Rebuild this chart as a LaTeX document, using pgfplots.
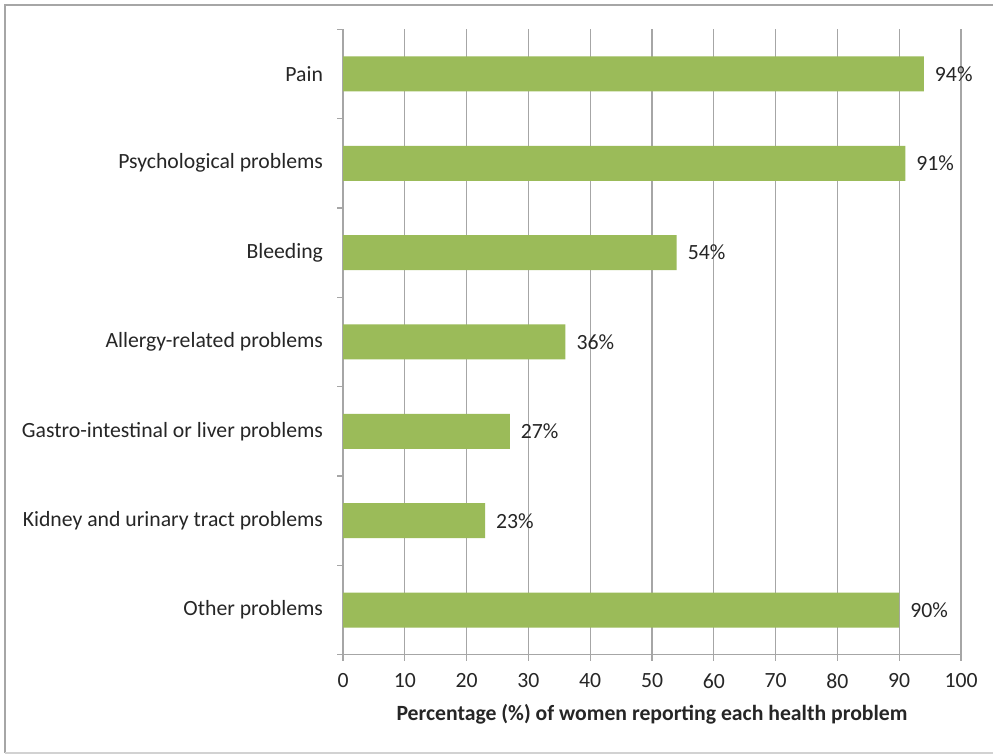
\documentclass[border=0pt]{standalone}
\usepackage{fontspec}
\setmainfont{Carlito}
\usepackage{pgfplots}
\pgfplotsset{compat=1.18}
\definecolor{bargreen}{HTML}{9BBB59}
\definecolor{gridgray}{HTML}{A6A6A6}
\definecolor{txt}{HTML}{262626}
\newcommand{\lblfont}{\fontsize{10.9}{13}\selectfont}
\begin{document}
\begin{tikzpicture}[x=0.5bp,y=0.5bp]
\useasboundingbox (0,0) rectangle (993,754);
\fill[white] (0,0) rectangle (993,754);
% chart frame
\draw[gray!70, line width=1.2bp] (5,1) -- (5,749) -- (996,749);
\draw[gray!35, line width=0.6bp] (5,1) -- (996,1);
\begin{axis}[
  at={(171.5bp,49.65bp)}, anchor=south west,
  width=309bp, height=312.7bp, scale only axis,
  xbar, bar width=17.5bp,
  xmin=0, xmax=100,
  ymin=-0.5, ymax=6.5, y dir=reverse,
  xtick={0,10,...,100},
  ytick={-0.5,0.5,...,6.5},
  yticklabels={},
  extra y ticks={0,...,6},
  extra y tick labels={Pain, Psychological problems, Bleeding, Allergy-related problems, Gastro-intestinal or liver problems, Kidney and urinary tract problems, Other problems},
  extra y tick style={tick style={draw=none}},
  major tick length=3bp,
  tick align=outside,
  tick style={gridgray, line width=0.6bp},
  axis x line*=bottom, axis y line*=left,
  axis line style={gridgray, line width=0.6bp},
  xmajorgrids, major grid style={gridgray, line width=0.6bp},
  /pgf/number format/assume math mode=true,
  tick label style={font=\lblfont, text=txt},
  yticklabel style={xshift=-3.5bp},
  xticklabel style={yshift=-3bp},
  xlabel={\textbf{Percentage (\%) of women reporting each health problem}},
  xlabel style={font=\lblfont, text=txt, yshift=-1bp},
  nodes near coords={\pgfmathprintnumber{\pgfplotspointmeta}\%},
  nodes near coords style={font=\lblfont, text=txt, anchor=west, xshift=2bp},
  point meta=x,
  clip=false,
]
\addplot[fill=bargreen, draw=none] coordinates {
  (94,0) (91,1) (54,2) (36,3) (27,4) (23,5) (90,6)
};
\end{axis}
\end{tikzpicture}
\end{document}
